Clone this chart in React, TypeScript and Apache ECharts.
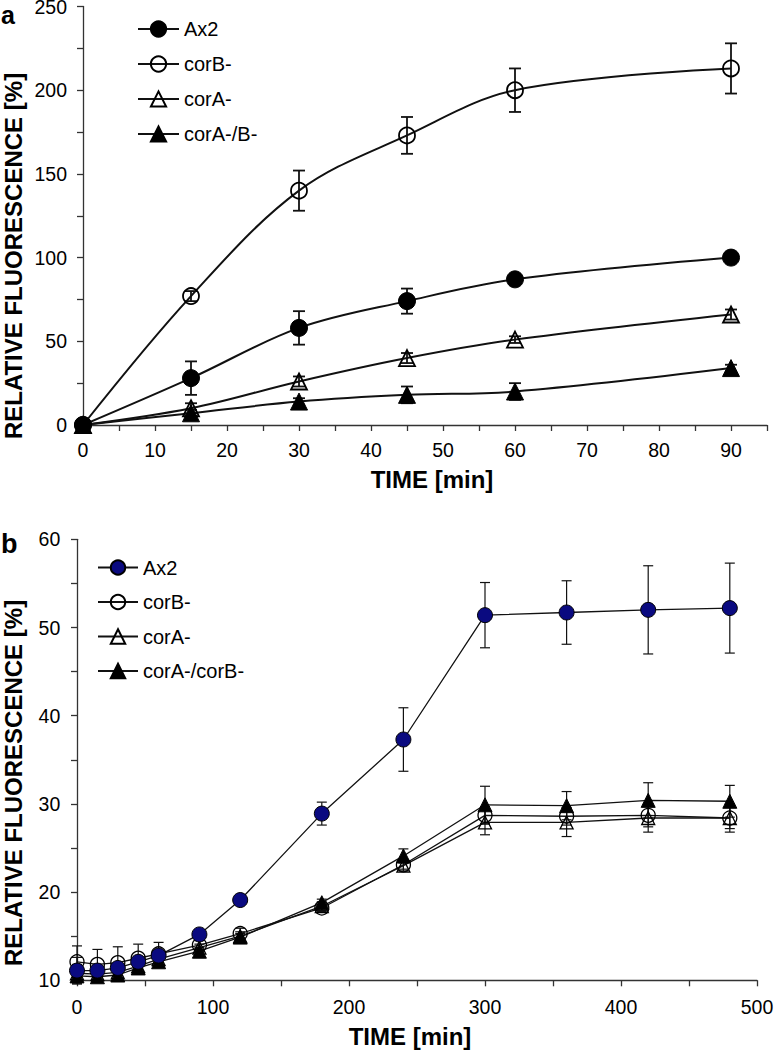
import React, { useEffect, useRef } from 'react';
import * as echarts from 'echarts';

const FONT = '"Liberation Sans", Arial, Helvetica, sans-serif';

// ---------- Panel a ----------
const timeA = [0, 15, 30, 45, 60, 90];
const ax2A = [0, 28, 58, 74, 87, 100];
const ax2AErr = [0, 10, 10, 7.5, 2, 0];
const corBA = [0, 77, 140, 173, 200, 213];
const corBAErr = [0, 3, 12, 11, 13, 15];
const corAA = [0, 10, 26, 40, 51, 66];
const corAAErr = [0, 3, 3, 3, 2, 3];
const corABA = [0, 7, 14, 18, 20, 34];
const corABAErr = [0, 2, 2, 5, 5, 2];
const namesA = ['Ax2', 'corB-', 'corA-', 'corA-/B-'];

// ---------- Panel b ----------
const timeB = [0, 15, 30, 45, 60, 90, 120, 180, 240, 300, 360, 420, 480];
const ax2B = [11.1, 11.1, 11.4, 12.1, 12.8, 15.2, 19.1, 28.9, 37.3, 51.4, 51.7, 52.0, 52.2];
const ax2BErr = [1.5, 0.5, 0.5, 0.5, 0.5, 0.5, 0.4, 1.3, 3.6, 3.7, 3.6, 5.0, 5.1];
const corBB = [12.1, 11.8, 12.0, 12.5, 13.0, 14.0, 15.3, 18.2, 23.1, 28.7, 28.6, 28.7, 28.4];
const corBBErr = [1.8, 1.7, 1.8, 1.6, 1.3, 0.5, 0.6, 0.4, 0.5, 1.0, 1.0, 1.3, 1.2];
const corAB = [10.8, 10.7, 10.9, 11.6, 12.4, 13.7, 15.0, 18.4, 23.0, 27.9, 27.9, 28.4, 28.4];
const corABErr = [1.0, 0.8, 0.8, 0.6, 0.5, 0.4, 0.5, 0.5, 0.6, 1.4, 1.6, 1.6, 1.6];
const corABB = [10.5, 10.4, 10.6, 11.4, 12.1, 13.3, 14.9, 18.8, 24.1, 29.9, 29.8, 30.4, 30.3];
const corABBErr = [0.9, 0.5, 0.5, 0.4, 0.4, 0.4, 0.4, 0.4, 0.8, 2.1, 1.6, 2.0, 1.8];
const namesB = ['Ax2', 'corB-', 'corA-', 'corA-/corB-'];

const yTitle = 'RELATIVE FLUORESCENCE [%]';
const xTitle = 'TIME [min]';

function errorSeries(name: string, xs: number[], ys: number[], errs: number[], capW: number, lw: number) {
  return {
    type: 'custom',
    name,
    z: 1,
    silent: true,
    clip: false,
    dimensions: ['x', 'y', 'e'],
    encode: { x: 0, y: 1 },
    data: xs.map((x, i) => [x, ys[i], errs[i]]).filter((d) => d[2] > 0),
    renderItem: (params: any, api: any) => {
      const x = api.value(0);
      const y = api.value(1);
      const e = api.value(2);
      const t = api.coord([x, y + e]);
      const b = api.coord([x, y - e]);
      const h = capW / 2;
      const st = { stroke: '#111', lineWidth: lw, fill: null };
      return {
        type: 'group',
        children: [
          { type: 'line', shape: { x1: t[0], y1: t[1], x2: b[0], y2: b[1] }, style: st },
          { type: 'line', shape: { x1: t[0] - h, y1: t[1], x2: t[0] + h, y2: t[1] }, style: st },
          { type: 'line', shape: { x1: b[0] - h, y1: b[1], x2: b[0] + h, y2: b[1] }, style: st },
        ],
      };
    },
  };
}

function lineSeries(
  name: string,
  xs: number[],
  ys: number[],
  symbol: string,
  fill: string,
  size: number,
  lw: number,
  borderW: number,
  smooth: number | boolean
) {
  return {
    type: 'line',
    name,
    z: 3,
    data: xs.map((x, i) => [x, ys[i]]),
    symbol,
    symbolSize: size,
    showAllSymbol: true,
    smooth,
    lineStyle: { color: '#111', width: lw },
    itemStyle: { color: fill, borderColor: '#000', borderWidth: borderW, opacity: 1 },
    emphasis: { disabled: true },
  };
}

function axisCommon(min: number, max: number, interval: number, labelEvery: number, margin: number) {
  return {
    type: 'value',
    min,
    max,
    interval,
    splitLine: { show: false },
    axisLine: { show: true, onZero: false, lineStyle: { color: '#333', width: 1.3 } },
    axisTick: { show: true, inside: false, length: 6, lineStyle: { color: '#333', width: 1.3 } },
    axisLabel: {
      show: true,
      margin,
      color: '#000',
      fontSize: 19.5,
      fontFamily: FONT,
      formatter: (v: number) => (Math.abs(v % labelEvery) < 1e-9 ? String(v) : ''),
      showMinLabel: true,
      showMaxLabel: true,
    },
  };
}

function textEl(text: string, x: number, y: number, size: number, rotation = 0, align = 'center') {
  return {
    type: 'text',
    x,
    y,
    rotation,
    silent: true,
    style: {
      text,
      font: `bold ${size}px ${FONT}`,
      fill: '#000',
      textAlign: align,
      textVerticalAlign: 'middle',
      align,
      verticalAlign: 'middle',
    },
  };
}

function optionA() {
  return {
    animation: false,
    backgroundColor: '#fff',
    grid: { left: 83, top: 6.5, width: 684, height: 418.5, containLabel: false, outerBoundsMode: 'none' },
    xAxis: axisCommon(0, 95, 5, 10, 14.5),
    yAxis: axisCommon(0, 250, 25, 50, 16),
    legend: {
      orient: 'vertical',
      left: 137,
      top: 19,
      padding: 0,
      itemWidth: 41,
      itemHeight: 19,
      itemGap: 15,
      selectedMode: false,
      data: namesA,
      textStyle: { fontSize: 20, color: '#000', fontFamily: FONT },
    },
    graphic: [
      textEl('a', 1, 14.5, 25, 0, 'left'),
      textEl(yTitle, 13.5, 256, 24, Math.PI / 2),
      textEl(xTitle, 432, 479, 24),
    ],
    series: [
      errorSeries('eAx2', timeA, ax2A, ax2AErr, 12, 1.8),
      errorSeries('eCorB', timeA, corBA, corBAErr, 12, 1.8),
      errorSeries('eCorA', timeA, corAA, corAAErr, 12, 1.8),
      errorSeries('eCorAB', timeA, corABA, corABAErr, 12, 1.8),
      lineSeries(namesA[0], timeA, ax2A, 'circle', '#000', 17, 2, 1, 0.35),
      lineSeries(namesA[1], timeA, corBA, 'circle', 'transparent', 16, 2, 1.8, 0.35),
      lineSeries(namesA[2], timeA, corAA, 'triangle', 'transparent', 16, 2, 1.8, 0.35),
      lineSeries(namesA[3], timeA, corABA, 'triangle', '#000', 17, 2, 1, 0.35),
    ],
  };
}

function optionB() {
  return {
    animation: false,
    backgroundColor: '#fff',
    grid: { left: 77, top: 39.3, width: 680, height: 441, containLabel: false, outerBoundsMode: 'none' },
    xAxis: axisCommon(0, 500, 50, 100, 16.5),
    yAxis: axisCommon(10, 60, 5, 10, 16.7),
    legend: {
      orient: 'vertical',
      left: 97,
      top: 57.5,
      padding: 0,
      itemWidth: 40,
      itemHeight: 18,
      itemGap: 14.5,
      selectedMode: false,
      data: namesB,
      textStyle: { fontSize: 20, color: '#000', fontFamily: FONT },
    },
    graphic: [
      textEl('b', 1, 44, 27, 0, 'left'),
      textEl(yTitle, 13.5, 283, 24, Math.PI / 2),
      textEl(xTitle, 410, 536, 24),
    ],
    series: [
      errorSeries('eAx2', timeB, ax2B, ax2BErr, 10, 1.2),
      errorSeries('eCorB', timeB, corBB, corBBErr, 10, 1.2),
      errorSeries('eCorA', timeB, corAB, corABErr, 10, 1.2),
      errorSeries('eCorAB', timeB, corABB, corABBErr, 10, 1.2),
      lineSeries(namesB[1], timeB, corBB, 'circle', 'transparent', 14, 1.3, 1.3, false),
      lineSeries(namesB[2], timeB, corAB, 'triangle', 'transparent', 13, 1.3, 1.3, false),
      lineSeries(namesB[3], timeB, corABB, 'triangle', '#000', 14, 1.3, 1, false),
      lineSeries(namesB[0], timeB, ax2B, 'circle', '#0a0a80', 15, 1.3, 1, false),
    ],
  };
}

export default function App() {
  const refA = useRef<HTMLDivElement>(null);
  const refB = useRef<HTMLDivElement>(null);

  useEffect(() => {
    const cA = echarts.init(refA.current as HTMLDivElement, undefined, { renderer: 'svg' });
    const cB = echarts.init(refB.current as HTMLDivElement, undefined, { renderer: 'svg' });
    cA.setOption(optionA() as any);
    cB.setOption(optionB() as any);
    return () => {
      cA.dispose();
      cB.dispose();
    };
  }, []);

  return (
    <div style={{ position: 'absolute', left: 0, top: 0, width: 774, height: 1052, background: '#fff', overflow: 'hidden' }}>
      <div ref={refA} style={{ position: 'absolute', left: 0, top: 0, width: 774, height: 500 }} />
      <div ref={refB} style={{ position: 'absolute', left: 0, top: 500, width: 774, height: 552 }} />
    </div>
  );
}
